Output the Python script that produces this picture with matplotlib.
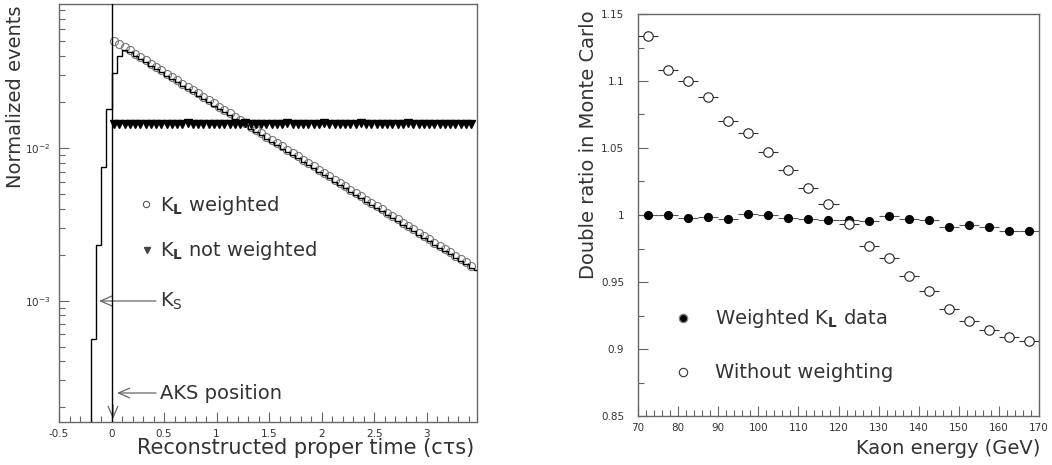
import numpy as np
import matplotlib.pyplot as plt
from matplotlib.ticker import MultipleLocator, LogLocator, NullFormatter, LogFormatterMathtext

# proper-time distributions (bins of 0.05 c*tau_S)
kl_weighted = [
    0.05072, 0.04825, 0.04589, 0.04365, 0.04153, 0.03950, 0.03757, 0.03574, 0.03400, 0.03234,
    0.03076, 0.02926, 0.02783, 0.02648, 0.02519, 0.02396, 0.02279, 0.02168, 0.02062, 0.01961,
    0.01866, 0.01775, 0.01688, 0.01606, 0.01528, 0.01453, 0.01382, 0.01315, 0.01251, 0.01190,
    0.01132, 0.01076, 0.01024, 0.00974, 0.00927, 0.00881, 0.00838, 0.00798, 0.00759, 0.00722,
    0.00687, 0.00653, 0.00621, 0.00591, 0.00562, 0.00535, 0.00509, 0.00484, 0.00460, 0.00438,
    0.00417, 0.00396, 0.00377, 0.00359, 0.00341, 0.00324, 0.00309, 0.00294, 0.00279, 0.00266,
    0.00253, 0.00240, 0.00229, 0.00217, 0.00207, 0.00197, 0.00187, 0.00178, 0.00169,
]
kl_not_weighted = [
    0.0143, 0.0144, 0.0143, 0.0144, 0.0143, 0.0143, 0.0144, 0.0143, 0.0144, 0.0144,
    0.0143, 0.0144, 0.0143, 0.0144, 0.0145, 0.0144, 0.0143, 0.0144, 0.0144, 0.0143,
    0.0144, 0.0144, 0.0143, 0.0144, 0.0144, 0.0145, 0.0144, 0.0143, 0.0144, 0.0144,
    0.0143, 0.0144, 0.0144, 0.0145, 0.0144, 0.0143, 0.0144, 0.0144, 0.0143, 0.0144,
    0.0145, 0.0144, 0.0144, 0.0143, 0.0144, 0.0144, 0.0143, 0.0145, 0.0144, 0.0144,
    0.0143, 0.0144, 0.0144, 0.0143, 0.0144, 0.0144, 0.0145, 0.0144, 0.0143, 0.0144,
    0.0144, 0.0143, 0.0144, 0.0144, 0.0143, 0.0144, 0.0143, 0.0144, 0.0143,
]
# K_S histogram, first bin starts at -0.2
ks_hist = [
    0.00056, 0.0023, 0.0075, 0.018, 0.031, 0.040, 0.0437,
    0.0424, 0.0403, 0.0383, 0.0364, 0.0347, 0.0330, 0.0314, 0.0298, 0.0284, 0.0270,
    0.0257, 0.0244, 0.0232, 0.0221, 0.0210, 0.0200, 0.0190, 0.0181, 0.0172, 0.0164,
    0.0156, 0.0148, 0.0141, 0.0134, 0.0128, 0.0121, 0.0115, 0.0110, 0.0104, 0.00993,
    0.00945, 0.00899, 0.00855, 0.00813, 0.00774, 0.00736, 0.00700, 0.00666, 0.00633, 0.00602,
    0.00573, 0.00545, 0.00519, 0.00494, 0.00469, 0.00446, 0.00425, 0.00404, 0.00384, 0.00366,
    0.00348, 0.00331, 0.00314, 0.00300, 0.00285, 0.00271, 0.00258, 0.00245, 0.00233, 0.00222,
    0.00210, 0.00201, 0.00191, 0.00181, 0.00173, 0.00164, 0.00158,
]
bin_width = 0.05

# double ratio vs kaon energy
energy = [72.5, 77.5, 82.5, 87.5, 92.5, 97.5, 102.5, 107.5, 112.5, 117.5,
          122.5, 127.5, 132.5, 137.5, 142.5, 147.5, 152.5, 157.5, 162.5, 167.5]
ratio_weighted = [1.000, 1.000, 0.9975, 0.9985, 0.997, 1.0005, 1.000, 0.998, 0.9972, 0.9963,
                  0.996, 0.9958, 0.9993, 0.9968, 0.9963, 0.9913, 0.9925, 0.991, 0.988, 0.9877]
ratio_unweighted = [1.1336, 1.108, 1.100, 1.0878, 1.070, 1.061, 1.047, 1.0338, 1.020, 1.008,
                    0.993, 0.977, 0.968, 0.9547, 0.943, 0.9296, 0.921, 0.914, 0.9087, 0.9057]

W, H = 1052, 465
TXT = '#333333'
SPINE = '#666666'
plt.rcParams['font.family'] = ['DejaVu Sans']
plt.rcParams['mathtext.default'] = 'regular'

fig = plt.figure(figsize=(W / 100, H / 100), dpi=100)


def box(x0, y0, x1, y1):
    return [x0 / W, 1 - y1 / H, (x1 - x0) / W, (y1 - y0) / H]


def fpos(x, y):
    return (x / W, 1 - y / H)


def style(ax):
    for s in ax.spines.values():
        s.set_color(SPINE)
        s.set_linewidth(1.0)
    ax.tick_params(which='both', direction='in', colors=SPINE, labelcolor=TXT,
                   labelsize=7.5, top=False, right=False)
    ax.tick_params(which='major', length=7, width=0.8)
    ax.tick_params(which='minor', length=4, width=0.8)


# ---- left: proper time ----
ax1 = fig.add_axes(box(59, 4, 477, 422))
style(ax1)
ax1.set_yscale('log')
ax1.set_xlim(-0.5, 3.48)
ax1.set_ylim(1.6e-4, 0.088)
ax1.xaxis.set_major_locator(MultipleLocator(0.5))
ax1.xaxis.set_minor_locator(MultipleLocator(0.1))
ax1.xaxis.set_major_formatter(plt.FuncFormatter(lambda v, p: f'{v:g}'))
ax1.yaxis.set_major_locator(LogLocator(base=10))
ax1.yaxis.set_major_formatter(LogFormatterMathtext())
ax1.yaxis.set_minor_locator(LogLocator(base=10, subs=np.arange(2, 10)))
ax1.yaxis.set_minor_formatter(NullFormatter())
ax1.tick_params(axis='y', pad=6.5)
ax1.tick_params(axis='x', pad=5)

t_pts = 0.025 + bin_width * np.arange(len(kl_weighted))
ax1.plot(t_pts, kl_weighted, 'o', ms=5.8, mfc='none', mec='#777777', mew=0.8, zorder=3)
ax1.plot(t_pts, kl_not_weighted, 'v', ms=5.5, color='black', zorder=3)

edges = -0.2 + bin_width * np.arange(len(ks_hist) + 1)
ax1.stairs(ks_hist, edges, baseline=1e-6, color='black', lw=1.0, zorder=4)
ax1.axvline(0, color='black', lw=1.0, zorder=4)

arrow = dict(arrowstyle='->,head_length=0.8,head_width=0.35', color='#666666',
             lw=0.9, shrinkA=0, shrinkB=0)
ax1.annotate('', xy=(99, H - 301), xytext=(156, H - 301),
             xycoords='figure pixels', textcoords='figure pixels', arrowprops=arrow)
ax1.annotate('', xy=(117, H - 393), xytext=(156, H - 393),
             xycoords='figure pixels', textcoords='figure pixels', arrowprops=arrow)
ax1.annotate('', xy=(113, H - 419), xytext=(113, H - 405),
             xycoords='figure pixels', textcoords='figure pixels', arrowprops=arrow)

fig.lines.append(plt.Line2D([fpos(146, 0)[0]], [fpos(0, 204)[1]], marker='o', ms=4.5,
                            mfc='none', mec='#555555', mew=0.8, transform=fig.transFigure))
fig.lines.append(plt.Line2D([fpos(147, 0)[0]], [fpos(0, 250)[1]], marker='v', ms=5,
                            color='#444444', transform=fig.transFigure))
fig.text(*fpos(160, 205), 'K$_{\\mathbf{L}}$ weighted', fontsize=14, color=TXT, va='center')
fig.text(*fpos(160, 251), 'K$_{\\mathbf{L}}$ not weighted', fontsize=14, color=TXT, va='center')
fig.text(*fpos(160, 301), 'K$_S$', fontsize=14, color=TXT, va='center')
fig.text(*fpos(160, 393), 'AKS position', fontsize=14, color=TXT, va='center')

fig.text(*fpos(16, 5), 'Normalized events', rotation=90, fontsize=14, color=TXT,
         ha='center', va='top')
fig.text(*fpos(474, 448), 'Reconstructed proper time (cτs)', fontsize=15, color=TXT,
         ha='right', va='center')

# ---- right: double ratio ----
ax2 = fig.add_axes(box(638, 14, 1039, 416))
style(ax2)
ax2.set_xlim(70, 170)
ax2.set_ylim(0.85, 1.15)
ax2.xaxis.set_major_locator(MultipleLocator(10))
ax2.xaxis.set_minor_locator(MultipleLocator(2))
ax2.yaxis.set_major_locator(MultipleLocator(0.05))
ax2.yaxis.set_minor_locator(MultipleLocator(0.025))
ax2.yaxis.set_major_formatter(plt.FuncFormatter(lambda v, p: f'{v:.3g}'))
ax2.tick_params(axis='y', pad=10)
ax2.tick_params(axis='x', pad=5)

ax2.errorbar(energy, ratio_weighted, xerr=2.5, fmt='o', ms=5.6, color='black',
             ecolor='#555555', elinewidth=0.8, capsize=0, zorder=3)
ax2.errorbar(energy, ratio_unweighted, xerr=2.5, fmt='o', ms=6.8, mfc='white',
             mec='#222222', mew=0.8, ecolor='#333333', elinewidth=0.8, capsize=0, zorder=3)

fig.lines.append(plt.Line2D([fpos(683, 0)[0]], [fpos(0, 318)[1]], marker='o', ms=6,
                            mfc='black', mec='#888888', mew=1.0, transform=fig.transFigure))
fig.lines.append(plt.Line2D([fpos(683, 0)[0]], [fpos(0, 372)[1]], marker='o', ms=6,
                            mfc='white', mec='#333333', mew=0.8, transform=fig.transFigure))
fig.text(*fpos(715, 318), 'Weighted K$_{\\mathbf{L}}$ data', fontsize=14, color=TXT, va='center')
fig.text(*fpos(715, 372), 'Without weighting', fontsize=14, color=TXT, va='center')

fig.text(*fpos(588, 10), 'Double ratio in Monte Carlo', rotation=90, fontsize=14,
         color=TXT, ha='center', va='top')
fig.text(*fpos(1040, 448), 'Kaon energy (GeV)', fontsize=14, color=TXT,
         ha='right', va='center')

fig.savefig('out.png', dpi=100)
